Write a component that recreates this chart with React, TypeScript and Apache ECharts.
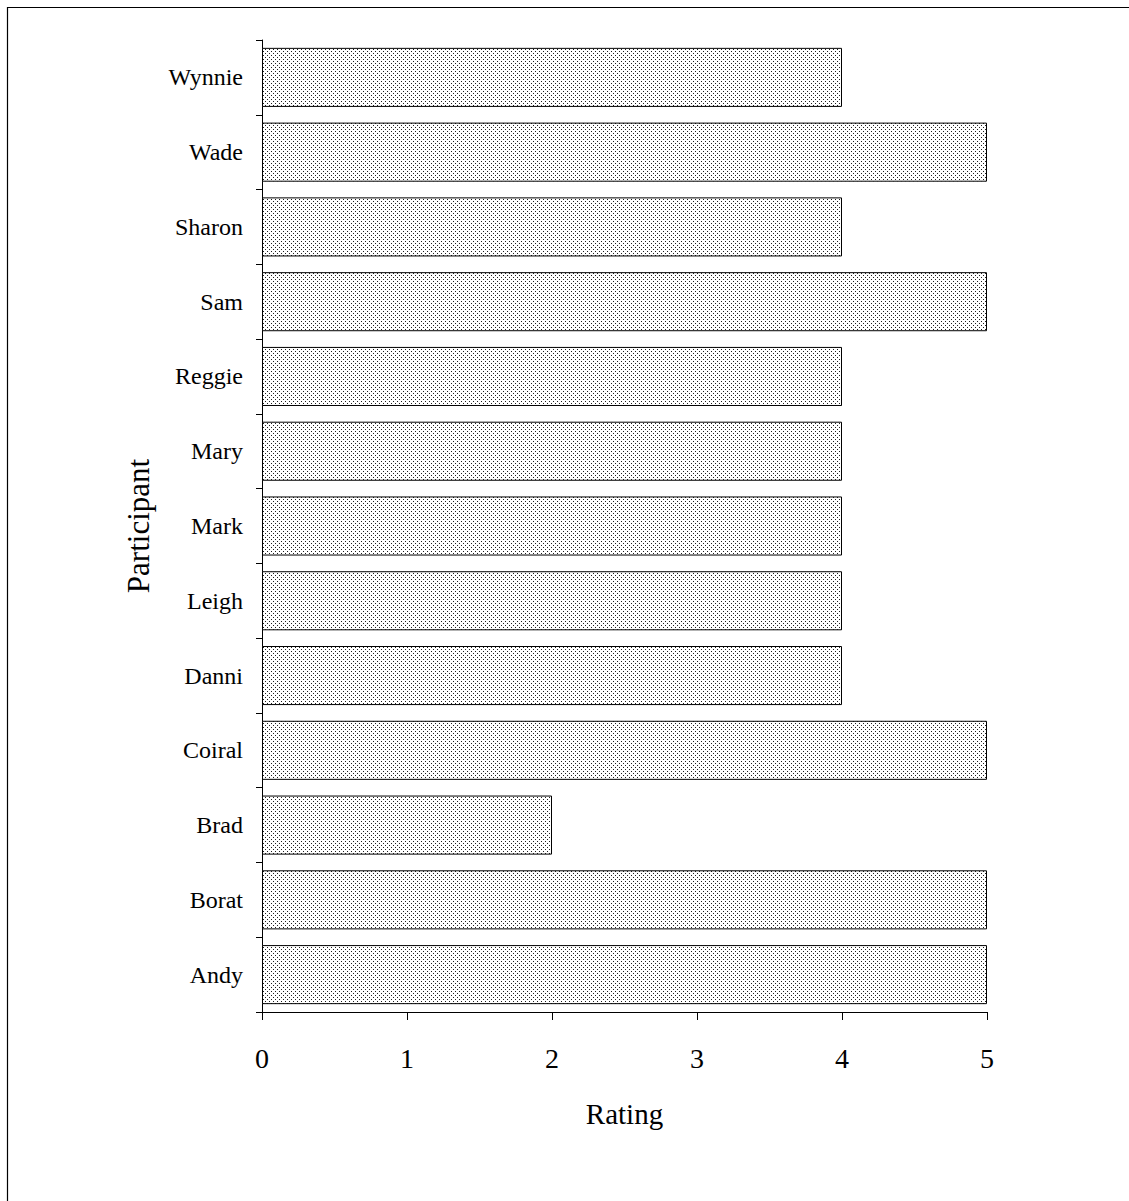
import React, { useEffect, useRef } from "react";
import * as echarts from "echarts";

const categories = ["Andy", "Borat", "Brad", "Coiral", "Danni", "Leigh", "Mark", "Mary", "Reggie", "Sam", "Sharon", "Wade", "Wynnie"];
const ratings = [5, 5, 2, 5, 4, 4, 4, 4, 4, 5, 4, 5, 4];
const xTicks = [0, 1, 2, 3, 4, 5];

function makePattern(): string {
  const c = document.createElement("canvas");
  c.width = 4;
  c.height = 4;
  const ctx = c.getContext("2d")!;
  ctx.fillStyle = "#ffffff";
  ctx.fillRect(0, 0, 4, 4);
  ctx.fillStyle = "#1e1e1e";
  ctx.fillRect(1, 1, 1, 1);
  ctx.fillRect(3, 3, 1, 1);
  return c.toDataURL();
}

export default function App() {
  const ref = useRef<HTMLDivElement>(null);
  useEffect(() => {
    document.body.style.margin = "0";
    const chart = echarts.init(ref.current!, null, { renderer: "svg" });
    const font = "'Liberation Serif', 'Times New Roman', serif";
    const pattern = makePattern();
    chart.setOption({
      animation: false,
      backgroundColor: "#ffffff",
      textStyle: { fontFamily: font, color: "#000" },
      grid: { left: 262, right: 142, top: 40, bottom: 189, containLabel: false },
      graphic: [
        { type: "line", shape: { x1: 7, y1: 7.5, x2: 1129, y2: 7.5 }, style: { stroke: "#000", lineWidth: 1.2 } },
        { type: "line", shape: { x1: 7.5, y1: 7, x2: 7.5, y2: 1201 }, style: { stroke: "#000", lineWidth: 1.2 } },
      ],
      xAxis: {
        type: "value",
        min: 0,
        max: 5,
        interval: 1,
        name: "Rating",
        nameLocation: "middle",
        nameGap: 87,
        nameTextStyle: { fontFamily: font, fontSize: 29, color: "#000" },
        axisLine: { show: true, lineStyle: { color: "#000", width: 1 } },
        axisTick: { show: true, length: 8, lineStyle: { color: "#000" } },
        splitLine: { show: false },
        axisLabel: {
          fontFamily: font,
          fontSize: 28,
          color: "#000",
          margin: 32,
          formatter: (v: number) => (xTicks.includes(v) ? String(v) : ""),
        },
      },
      yAxis: {
        type: "category",
        data: categories,
        name: "Participant",
        nameLocation: "middle",
        nameGap: 108,
        nameRotate: 90,
        nameTextStyle: { fontFamily: font, fontSize: 31, color: "#000" },
        axisLine: { show: true, lineStyle: { color: "#000", width: 1 } },
        axisTick: { show: true, length: 6, alignWithLabel: false, lineStyle: { color: "#000" } },
        axisLabel: { fontFamily: font, fontSize: 24, color: "#000", margin: 19 },
        splitLine: { show: false },
      },
      series: [
        {
          type: "bar",
          data: ratings,
          barCategoryGap: "21%",
          itemStyle: {
            color: { image: pattern, repeat: "repeat", imageWidth: 4, imageHeight: 4 } as any,
            borderColor: "#000",
            borderWidth: 1,
          },
          emphasis: { disabled: true },
        },
      ],
    });
    return () => chart.dispose();
  }, []);
  return <div ref={ref} style={{ width: 1129, height: 1201 }} />;
}
